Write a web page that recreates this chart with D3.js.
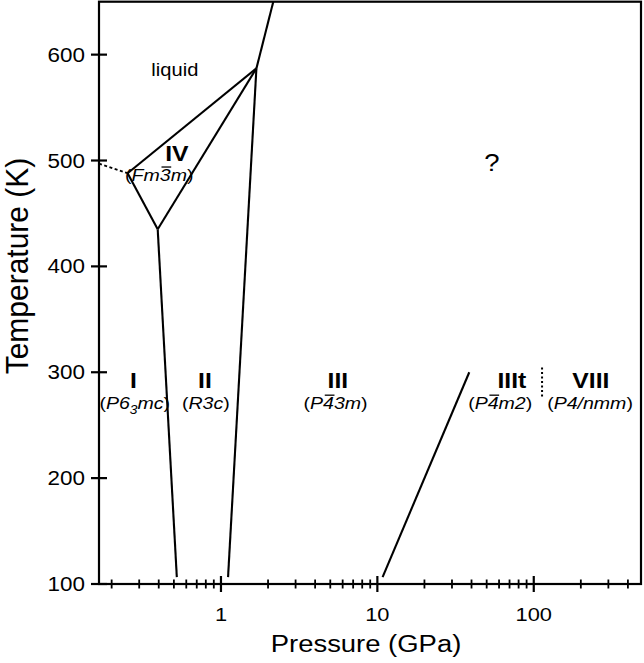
<!DOCTYPE html>
<html><head><meta charset="utf-8">
<script src="https://cdn.jsdelivr.net/npm/d3@7"></script>
<style>body{margin:0;background:#fff} svg{display:block}</style>
</head><body><svg id="c" width="644" height="663"></svg>
<script>
// ---------------- data ----------------
const pressureRange = [0.166, 485];      // GPa (log axis)
const temperatureRange = [100, 650];     // K
const majorPressureTicks = [1, 10, 100];
const majorPressureLabels = ["1", "10", "100"];
const minorPressureTicks = [0.2,0.3,0.4,0.5,0.6,0.7,0.8,0.9,2,3,4,5,6,7,8,9,20,30,40,50,60,70,80,90,200,300,400];
const temperatureTicks = [100, 200, 300, 400, 500, 600];

// phase boundaries as [pressure GPa, temperature K]
const meltingUpper   = [[1.685, 587], [2.16, 650]];
const boundaryII_III = [[1.685, 587], [1.11, 106.5]];
const boundaryI_II   = [[0.394, 435], [0.522, 106.5]];
const liquidIV       = [[0.253, 488], [1.685, 587]];
const boundaryIV_I   = [[0.253, 488], [0.394, 435]];
const boundaryIV_II  = [[0.394, 435], [1.685, 587]];
const boundaryIII_IIIt = [[10.8, 106.5], [38.7, 300]];
const dashedBoundary = [[0.166, 497], [0.253, 488]];
const dottedBoundary = [[113, 277], [113, 305]];

// labels: text anchors in data units
const phaseNames   = ["I", "II", "III", "IIIt", "VIII", "IV"];
const phaseNameP   = [0.276, 0.79, 5.59, 72.5, 232, 0.522];
const phaseNameT   = [285.5, 285.5, 285.5, 285.5, 285.5, 500];
const spaceGroups  = [
  [["(", "r"], ["P6", "i"], ["3", "sub"], ["mc", "i"], [")", "r"]],
  [["(", "r"], ["R3c", "i"], [")", "r"]],
  [["(", "r"], ["P", "i"], ["4", "bar"], ["3m", "i"], [")", "r"]],
  [["(", "r"], ["P", "i"], ["4", "bar"], ["m2", "i"], [")", "r"]],
  [["(", "r"], ["P4/nmm", "i"], [")", "r"]],
  [["(", "r"], ["Fm", "i"], ["3", "bar"], ["m", "i"], [")", "r"]]
];
const spaceGroupP  = [0.281, 0.80, 5.4, 61, 229, 0.403];
const spaceGroupT  = [265.5, 265.5, 265.5, 265.5, 265.5, 481];
const otherTexts   = ["liquid", "?"];
const otherP       = [0.507, 54];
const otherT       = [579.5, 491];

// ---------------- layout ----------------
const L = 99, R = 641, T = 1.7, B = 584;
const SX = 1.15;            // horizontal stretch of text
const FONT = "'Liberation Sans', Arial, Helvetica, sans-serif";

const svg = d3.select("#c");
const x = d3.scaleLog().domain(pressureRange).range([L, R]);
const y = d3.scaleLinear().domain(temperatureRange).range([B, T]);
const line = d3.line().x(d => x(d[0])).y(d => y(d[1]));

function label(px, py, size, weight, anchor, sx) {
  const g = svg.append("g").attr("transform", `translate(${px},${py}) scale(${sx || SX},1)`);
  const t = g.append("text").attr("x", 0).attr("y", 0)
    .attr("font-family", FONT).attr("font-size", size)
    .attr("font-weight", weight || "normal")
    .attr("text-anchor", anchor || "middle").attr("fill", "#000");
  return {g, t};
}

// boundaries
const solid = [meltingUpper, boundaryII_III, boundaryI_II, liquidIV, boundaryIV_I, boundaryIV_II, boundaryIII_IIIt];
svg.append("g").selectAll("path").data(solid).join("path")
  .attr("d", line).attr("fill", "none").attr("stroke", "#000")
  .attr("stroke-width", 2.1).attr("stroke-linecap", "butt");
svg.append("path").attr("d", line(dashedBoundary)).attr("fill", "none")
  .attr("stroke", "#000").attr("stroke-width", 1.8).attr("stroke-dasharray", "3,2.5");
svg.append("path").attr("d", line(dottedBoundary)).attr("fill", "none")
  .attr("stroke", "#000").attr("stroke-width", 2).attr("stroke-dasharray", "2,2.5");

// frame
svg.append("rect").attr("x", L).attr("y", T).attr("width", R - L).attr("height", B - T)
  .attr("fill", "none").attr("stroke", "#000").attr("stroke-width", 2.2);

// x ticks
const xt = svg.append("g");
xt.selectAll("line.mj").data(majorPressureTicks).join("line").attr("class", "mj")
  .attr("x1", d => x(d)).attr("x2", d => x(d)).attr("y1", B - 8).attr("y2", B + 8)
  .attr("stroke", "#000").attr("stroke-width", 2.2);
xt.selectAll("line.mn").data(minorPressureTicks).join("line").attr("class", "mn")
  .attr("x1", d => x(d)).attr("x2", d => x(d)).attr("y1", B - 4.5).attr("y2", B + 4.5)
  .attr("stroke", "#000").attr("stroke-width", 1.8);
majorPressureTicks.forEach((v, i) => {
  label(x(v), 621, 19, "normal", "middle").t.text(majorPressureLabels[i]);
});

// y ticks
svg.append("g").selectAll("line").data(temperatureTicks).join("line")
  .attr("x1", L - 8).attr("x2", L + 8).attr("y1", d => y(d)).attr("y2", d => y(d))
  .attr("stroke", "#000").attr("stroke-width", 2.2);
temperatureTicks.forEach(v => {
  label(85, y(v) + 7, 19.5, "normal", "end").t.text(v);
});

// axis titles
label(366, 652, 24.5, "normal", "middle", 1.12).t.text("Pressure (GPa)");
{
  const g = svg.append("g").attr("transform", `translate(28,266) scale(1.04,1) rotate(-90)`);
  g.append("text").attr("x", 0).attr("y", 0).attr("font-family", FONT)
    .attr("font-size", 30).attr("text-anchor", "middle").text("Temperature (K)");
}

// phase names
phaseNames.forEach((n, i) => {
  label(x(phaseNameP[i]), y(phaseNameT[i]), 21.5, "bold", "middle").t.text(n);
});

// space groups
spaceGroups.forEach((parts, i) => {
  const {g, t} = label(x(spaceGroupP[i]), y(spaceGroupT[i]), 17, "normal", "middle");
  let shift = 0;
  const bars = [];
  let idx = 0;
  parts.forEach(([s, kind]) => {
    const ts = t.append("tspan").text(s);
    if (kind !== "r") ts.attr("font-style", "italic");
    if (kind === "sub") { ts.attr("font-size", 12).attr("dy", 5); shift = 5; }
    else if (shift) { ts.attr("dy", -shift); shift = 0; }
    if (kind === "bar") bars.push(idx);
    idx += s.length;
  });
  const node = t.node();
  bars.forEach(ci => {
    const a = node.getStartPositionOfChar(ci).x, b = node.getEndPositionOfChar(ci).x;
    g.append("line").attr("x1", a + 1.5).attr("x2", b + 0.5).attr("y1", -13.6).attr("y2", -13.6)
      .attr("stroke", "#000").attr("stroke-width", 1.3);
  });
});

// other texts
label(x(otherP[0]), y(otherT[0]), 17.5, "normal", "middle").t.text(otherTexts[0]);
label(x(otherP[1]), y(otherT[1]) + 1, 24, "normal", "middle").t.text(otherTexts[1]);
</script></body></html>
